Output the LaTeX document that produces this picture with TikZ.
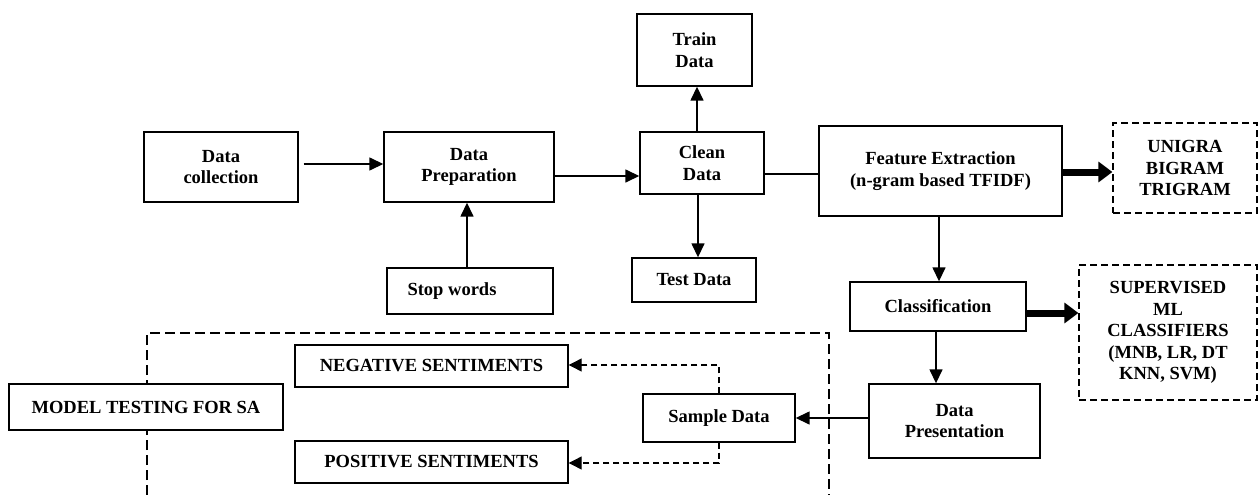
\documentclass[tikz,border=0pt]{standalone}
\usepackage{fontspec}
\setmainfont{Liberation Serif}
\usetikzlibrary{arrows.meta}
\begin{document}
\begin{tikzpicture}[x=1pt,y=-1pt,
  box/.style={draw, line width=1.4pt, fill=white, align=center, inner sep=0pt,
    font=\fontsize{18.5}{21.5}\selectfont\bfseries},
  dbox/.style={box, dash pattern=on 7pt off 4pt, line width=1.2pt},
  arr/.style={line width=1.5pt, -{Triangle[length=14pt,width=13pt]}},
  tharr/.style={line width=7pt, -{Triangle[length=14pt,width=20pt]}},
  darr/.style={line width=1.2pt, dash pattern=on 6pt off 4pt, -{Triangle[length=13pt,width=13pt]}},
  frame/.style={line width=1.2pt, dash pattern=on 10pt off 5pt},
  plain/.style={line width=1.5pt}]
\useasboundingbox (0,0) rectangle (1258,495);

% dashed frame (open at the bottom)
\draw[frame] (147,495) -- (147,333) -- (829,333) -- (829,495);

\node[box, minimum width=154pt, minimum height=70pt] (dc) at (221,167) {Data\\collection};
\node[box, minimum width=170pt, minimum height=70pt] (dp) at (469,167) {Data\\Preparation};
\node[box, minimum width=166pt, minimum height=46pt] (sw) at (470,291) {Stop words\hspace{36pt}};
\node[box, minimum width=124pt, minimum height=62pt] (cd) at (702,163) {Clean\\Data};
\node[box, minimum width=115pt, minimum height=72pt] (td) at (694.5,50) {Train\\Data};
\node[box, minimum width=124pt, minimum height=44pt] (ts) at (694,280) {Test Data};
\node[box, minimum width=243pt, minimum height=90pt] (fe) at (940.5,171) {Feature Extraction\\(n-gram based TFIDF)};
\node[dbox, minimum width=144pt, minimum height=90pt] (ug) at (1185,168) {UNIGRA\\BIGRAM\\TRIGRAM};
\node[box, minimum width=176pt, minimum height=49pt] (cl) at (938,306.5) {Classification};
\node[dbox, minimum width=178pt, minimum height=135pt] (sv) at (1168,332.5) {SUPERVISED\\ML\\CLASSIFIERS\\(MNB, LR, DT\\KNN, SVM)};
\node[box, minimum width=171pt, minimum height=74pt] (dpr) at (954.5,421) {Data\\Presentation};
\node[box, minimum width=152pt, minimum height=48pt] (sd) at (719,418) {Sample Data};
\node[box, minimum width=273pt, minimum height=42pt] (neg) at (431.5,366) {NEGATIVE SENTIMENTS};
\node[box, minimum width=273pt, minimum height=42pt] (pos) at (431.5,462) {POSITIVE SENTIMENTS};
\node[box, minimum width=274pt, minimum height=46pt] (mt) at (146,407) {MODEL TESTING FOR SA};

\coordinate (nc) at (719,365);
\coordinate (pc) at (719,463);

% connectors
\draw[arr, shorten <=5pt] (dc.east |- 0,164) -- (dp.west |- 0,164);
\draw[arr] (sw.north -| 467,0) -- (dp.south -| 467,0);
\draw[arr] (dp.east |- 0,176) -- (cd.west |- 0,176);
\draw[arr] (cd.north -| 697,0) -- (td.south -| 697,0);
\draw[arr] (cd.south -| 698,0) -- (ts.north -| 698,0);
\draw[plain] (cd.east |- 0,174) -- (fe.west |- 0,174);
\draw[arr] (fe.south -| 939,0) -- (cl.north -| 939,0);
\draw[tharr] (fe.east |- 0,172) -- (ug.west |- 0,172);
\draw[tharr] (cl.east |- 0,313) -- (sv.west |- 0,313);
\draw[arr] (cl.south -| 936,0) -- (dpr.north -| 936,0);
\draw[arr] (dpr.west |- 0,418) -- (sd.east |- 0,418);
\draw[darr] (sd.north) -- (nc) -- (neg.east |- nc);
\draw[darr] (sd.south) -- (pc) -- (pos.east |- pc);
\end{tikzpicture}
\end{document}
